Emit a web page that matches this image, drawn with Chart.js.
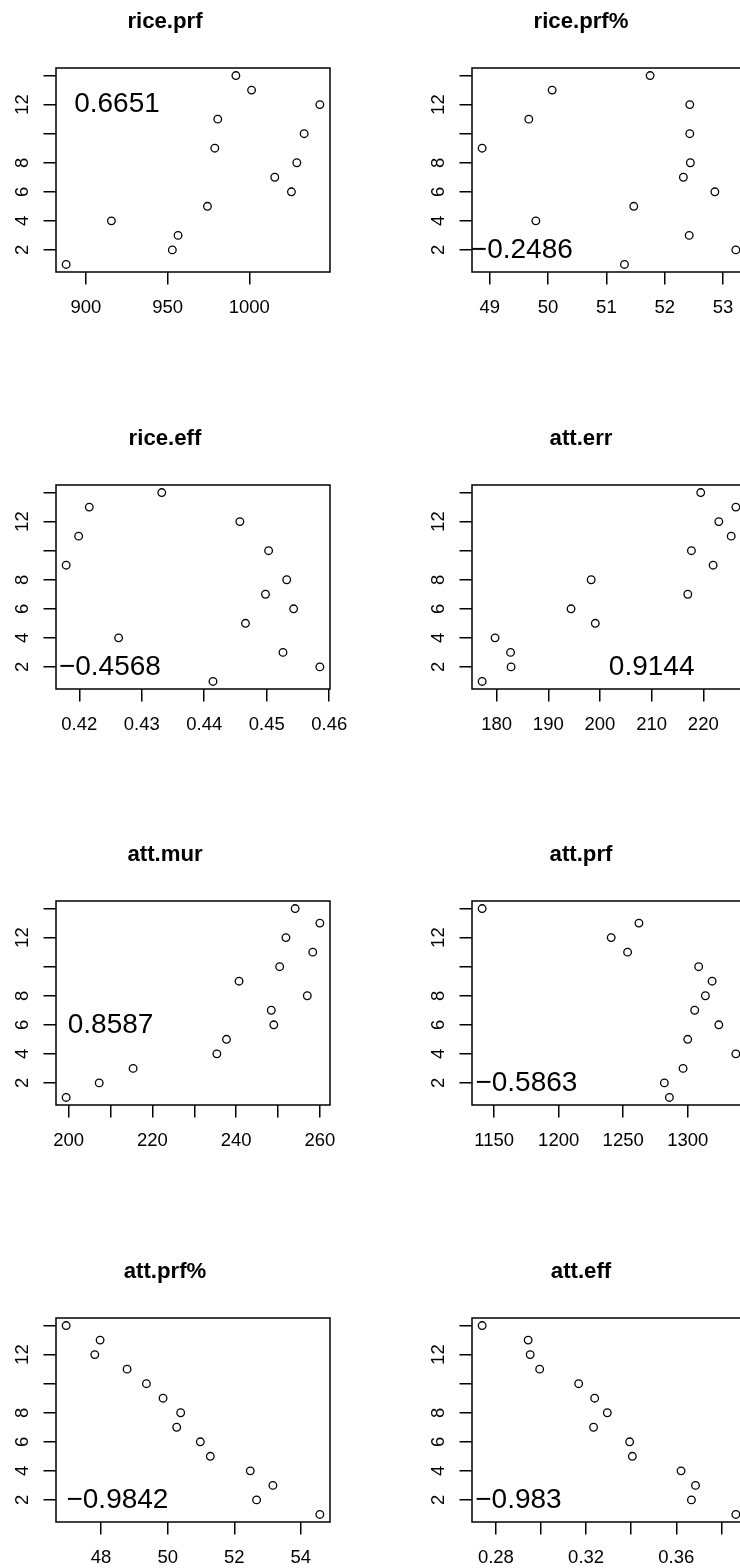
<!DOCTYPE html>
<html>
<head>
<meta charset="utf-8">
<script src="https://cdn.jsdelivr.net/npm/chart.js@4/dist/chart.umd.min.js"></script>
<style>
  html, body { margin: 0; padding: 0; background: #fff; }
  #page { position: relative; width: 740px; height: 1568px; overflow: hidden; background: #fff; }
  #page canvas { position: absolute; }
</style>
</head>
<body>
<div id="page"></div>
<script>
// ---- data -------------------------------------------------------------
// rank of each observation (y axis, shared by every panel)
const ranks = [1, 2, 3, 4, 5, 6, 7, 8, 9, 10, 11, 12, 13, 14];

const titles = ["rice.prf", "rice.prf%", "rice.eff", "att.err",
                "att.mur", "att.prf", "att.prf%", "att.eff"];

// measurements, listed in rank order 1..14
const ricePrf    = [887.9, 952.9, 956.4, 915.6, 974.4, 1025.8, 1015.6, 1029.1, 978.9, 1033.6, 980.7, 1043.2, 1001.4, 991.8];
const ricePrfPct = [51.31, 53.22, 52.42, 49.79, 51.47, 52.86, 52.32, 52.44, 48.87, 52.43, 49.67, 52.43, 50.07, 51.75];
const riceEff    = [0.4414, 0.4585, 0.4526, 0.4263, 0.4466, 0.4543, 0.4498, 0.4532, 0.4179, 0.4503, 0.4199, 0.4457, 0.4216, 0.4332];
const attErr     = [177.2, 182.8, 182.7, 179.7, 199.1, 194.4, 217.0, 198.3, 221.9, 217.7, 225.4, 223.0, 226.3, 219.5];
const attMur     = [199.4, 207.3, 215.4, 235.4, 237.7, 249.0, 248.4, 257.0, 240.7, 250.4, 258.3, 251.9, 260.0, 254.1];
const attPrf     = [1285.8, 1281.9, 1296.4, 1337.3, 1300.0, 1324.1, 1305.4, 1313.7, 1318.9, 1308.5, 1253.4, 1240.7, 1262.2, 1140.7];
const attPrfPct  = [54.57, 52.67, 53.16, 52.48, 51.28, 50.98, 50.27, 50.39, 49.86, 49.36, 48.78, 47.81, 47.97, 46.95];
const attEff     = [0.3864, 0.3667, 0.3685, 0.3621, 0.3405, 0.3393, 0.3233, 0.3294, 0.3238, 0.3167, 0.2994, 0.2952, 0.2943, 0.2739];

const series = [ricePrf, ricePrfPct, riceEff, attErr, attMur, attPrf, attPrfPct, attEff];

// correlation with rank, printed inside each panel
const correlations = ["0.6651", "\u22120.2486", "\u22120.4568", "0.9144",
                      "0.8587", "\u22120.5863", "\u22120.9842", "\u22120.983"];

// axis ticks and their printed labels ("" = tick without label)
const xTicks = [
  [900, 950, 1000],
  [49, 50, 51, 52, 53],
  [0.42, 0.43, 0.44, 0.45, 0.46],
  [180, 190, 200, 210, 220],
  [200, 210, 220, 230, 240, 250, 260],
  [1150, 1200, 1250, 1300],
  [48, 50, 52, 54],
  [0.28, 0.30, 0.32, 0.34, 0.36, 0.38]
];
const xTickLabels = [
  ["900", "950", "1000"],
  ["49", "50", "51", "52", "53"],
  ["0.42", "0.43", "0.44", "0.45", "0.46"],
  ["180", "190", "200", "210", "220"],
  ["200", "", "220", "", "240", "", "260"],
  ["1150", "1200", "1250", "1300"],
  ["48", "50", "52", "54"],
  ["0.28", "", "0.32", "", "0.36", ""]
];
const yTicks = [2, 4, 6, 8, 10, 12, 14];
const yTickLabels = ["2", "4", "6", "8", "", "12", ""];

// ---- layout -----------------------------------------------------------
const FONT = '"Liberation Sans", Arial, Helvetica, sans-serif';
const BOX_W = 274, BOX_H = 204;          // plotting region
const M_LEFT = 56, M_TOP = 70, M_RIGHT = 40, M_BOTTOM = 66;
const colLeft = [56, 472];
const rowTop = k => 68 + k * 416.67;
// where each correlation value is written, in data units of its panel
const labelAnchor = [[919, 12], [49.55, 2], [0.4249, 2], [210, 2],
                     [210, 6], [1175, 2], [48.49, 2], [0.29, 2]];

// 4% padding on both ends of the data range, like a classic plot frame
function paddedRange(vals) {
  const lo = Math.min(...vals), hi = Math.max(...vals);
  const ext = (hi - lo) * 0.04;
  return [lo - ext, hi + ext];
}

// frame around the plotting region
const framePlugin = {
  id: 'frame',
  beforeDatasetsDraw(chart) {
    const { ctx, chartArea: a } = chart;
    ctx.save();
    ctx.strokeStyle = '#000';
    ctx.lineWidth = 1.5;
    ctx.strokeRect(a.left, a.top, a.right - a.left, a.bottom - a.top);
    ctx.restore();
  }
};

// correlation text placed in data coordinates
const corrPlugin = {
  id: 'corrText',
  afterDatasetsDraw(chart, args, opts) {
    const { ctx, scales: { x, y } } = chart;
    ctx.save();
    ctx.font = '28px ' + FONT;
    ctx.fillStyle = '#000';
    ctx.textAlign = 'center';
    ctx.textBaseline = 'middle';
    ctx.fillText(opts.text, x.getPixelForValue(opts.at[0]), y.getPixelForValue(opts.at[1]));
    ctx.restore();
  }
};

const page = document.getElementById('page');

series.forEach((xs, p) => {
  const col = p % 2, row = Math.floor(p / 2);
  const canvas = document.createElement('canvas');
  const cw = M_LEFT + BOX_W + M_RIGHT, ch = M_TOP + BOX_H + M_BOTTOM;
  canvas.width = cw; canvas.height = ch;
  canvas.style.width = cw + 'px'; canvas.style.height = ch + 'px';
  canvas.style.left = (colLeft[col] - M_LEFT) + 'px';
  canvas.style.top = (rowTop(row) - M_TOP) + 'px';
  page.appendChild(canvas);

  const [xmin, xmax] = paddedRange(xs);
  const [ymin, ymax] = paddedRange(ranks);
  const xt = xTicks[p], xl = xTickLabels[p];

  new Chart(canvas, {
    type: 'scatter',
    data: {
      datasets: [{
        data: xs.map((v, i) => ({ x: v, y: ranks[i] })),
        pointStyle: 'circle',
        pointRadius: 3.8,
        pointHoverRadius: 3.8,
        pointBorderWidth: 1.3,
        pointBorderColor: '#000',
        pointBackgroundColor: 'rgba(0,0,0,0)',
        showLine: false,
        clip: false
      }]
    },
    options: {
      responsive: false,
      animation: false,
      devicePixelRatio: 1,
      events: [],
      layout: { padding: { left: 0, top: 0, right: M_RIGHT, bottom: 0 } },
      plugins: {
        legend: { display: false },
        tooltip: { enabled: false },
        title: {
          display: true,
          text: titles[p],
          color: '#000',
          font: { family: FONT, size: 22.2, weight: 'bold', lineHeight: 1.2 },
          padding: { top: 10.7, bottom: 32.66 }
        },
        corrText: { text: correlations[p], at: labelAnchor[p] }
      },
      scales: {
        x: {
          type: 'linear',
          position: 'bottom',
          min: xmin, max: xmax,
          afterBuildTicks: s => { s.ticks = xt.map(v => ({ value: v })); },
          afterFit: s => { s.height = M_BOTTOM; },
          ticks: {
            autoSkip: false, maxRotation: 0, minRotation: 0,
            padding: 12.4, color: '#000',
            font: { family: FONT, size: 18.5, lineHeight: 1.2 },
            callback: (v, i) => xl[i]
          },
          grid: { display: true, drawOnChartArea: false, drawTicks: true,
                  tickLength: 12.5, color: '#000', lineWidth: 1.5 },
          border: { display: false }
        },
        y: {
          type: 'linear',
          position: 'left',
          min: ymin, max: ymax,
          afterBuildTicks: s => { s.ticks = yTicks.map(v => ({ value: v })); },
          afterFit: s => { s.width = M_LEFT; },
          ticks: {
            autoSkip: false, minRotation: 90, maxRotation: 90,
            crossAlign: 'center', padding: 10.7, color: '#000',
            font: { family: FONT, size: 18.5, lineHeight: 1.2 },
            callback: (v, i) => yTickLabels[i]
          },
          grid: { display: true, drawOnChartArea: false, drawTicks: true,
                  tickLength: 12.5, color: '#000', lineWidth: 1.5 },
          border: { display: false }
        }
      }
    },
    plugins: [framePlugin, corrPlugin]
  });
});
</script>
</body>
</html>
